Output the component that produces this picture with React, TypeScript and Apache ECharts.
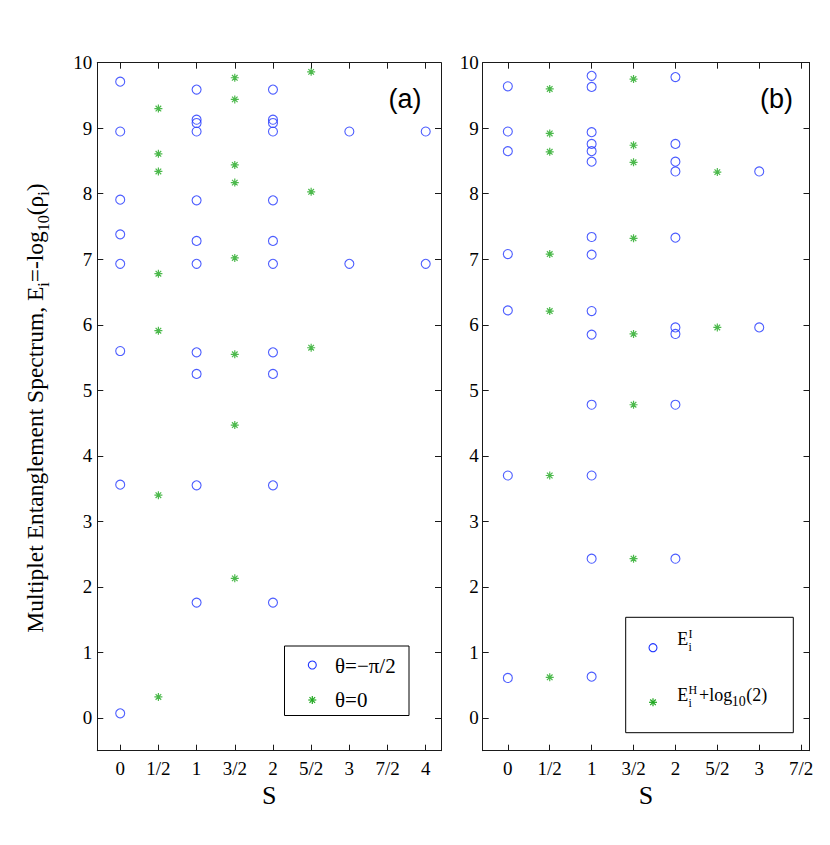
import React, { useEffect, useRef } from "react";
import * as echarts from "echarts";

const SERIF = '"Liberation Serif", "Times New Roman", serif';
const SANS = '"Liberation Sans", Arial, sans-serif';

// ticks
const xTickValuesA = [0, 0.5, 1, 1.5, 2, 2.5, 3, 3.5, 4];
const xTickLabelsA = ["0", "1/2", "1", "3/2", "2", "5/2", "3", "7/2", "4"];
const xTickValuesB = [0, 0.5, 1, 1.5, 2, 2.5, 3, 3.5];
const xTickLabelsB = ["0", "1/2", "1", "3/2", "2", "5/2", "3", "7/2"];
const yTickValues = [0, 1, 2, 3, 4, 5, 6, 7, 8, 9, 10];

// panel (a): θ = −π/2 (circles)
const aCircleS = [0, 1, 2, 3, 4];
const aCircleE = [
  [9.71, 8.95, 7.91, 7.38, 6.93, 5.6, 3.56, 0.07],
  [9.59, 9.13, 9.08, 8.95, 7.9, 7.28, 6.93, 5.58, 5.25, 3.55, 1.76],
  [9.59, 9.13, 9.08, 8.95, 7.9, 7.28, 6.93, 5.58, 5.25, 3.55, 1.76],
  [8.95, 6.93],
  [8.95, 6.93],
];
// panel (a): θ = 0 (stars)
const aStarS = [0.5, 1.5, 2.5];
const aStarE = [
  [9.3, 8.61, 8.34, 6.78, 5.91, 3.4, 0.32],
  [9.77, 9.44, 8.44, 8.17, 7.02, 5.55, 4.47, 2.13],
  [9.86, 8.03, 5.65],
];
// panel (b): E^I (circles)
const bCircleS = [0, 1, 2, 3];
const bCircleE = [
  [9.64, 8.95, 8.65, 7.08, 6.22, 3.7, 0.61],
  [9.8, 9.63, 8.94, 8.76, 8.65, 8.49, 7.34, 7.07, 6.21, 5.85, 4.78, 3.7, 2.43, 0.63],
  [9.78, 8.76, 8.49, 8.34, 7.33, 5.96, 5.86, 4.78, 2.43],
  [8.34, 5.96],
];
// panel (b): E^H + log10(2) (stars)
const bStarS = [0.5, 1.5, 2.5];
const bStarE = [
  [9.6, 8.92, 8.64, 7.08, 6.21, 3.7, 0.62],
  [9.75, 8.74, 8.48, 7.32, 5.86, 4.78, 2.43],
  [8.33, 5.96],
];

const BLUE = "#1f35ff";
const GREEN = "#1fa81f";
const AXIS = "#1a1a1a";
const STAR_PATH = "path://M4 0L4 8M0 4L8 4M1.2 1.2L6.8 6.8M1.2 6.8L6.8 1.2";

const toPoints = (S: number[], E: number[][]) =>
  S.flatMap((s, i) => E[i].map((e) => [s, e]));

function xAxes(grid: number, max: number, vals: number[], labels: string[]) {
  const common = {
    type: "value",
    gridIndex: grid,
    min: -0.3,
    max,
    splitLine: { show: false },
    axisLine: { show: true, onZero: false, lineStyle: { color: AXIS, width: 1 } },
    axisTick: {
      show: true,
      inside: true,
      length: 6,
      customValues: vals,
      lineStyle: { color: AXIS, width: 1 },
    },
  };
  return [
    {
      ...common,
      position: "bottom",
      axisLabel: {
        show: true,
        customValues: vals,
        margin: 8,
        fontFamily: SERIF,
        fontSize: 19,
        color: "#000",
        formatter: (v: number) => labels[Math.round(v * 2)],
      },
      name: "S",
      nameLocation: "middle",
      nameGap: 23,
      nameTextStyle: { fontFamily: SERIF, fontSize: 26, color: "#000" },
    },
    { ...common, position: "top", axisLabel: { show: false } },
  ];
}

function yAxes(grid: number, margin: number) {
  const common = {
    type: "value",
    gridIndex: grid,
    min: -0.5,
    max: 10,
    splitLine: { show: false },
    axisLine: { show: true, onZero: false, lineStyle: { color: AXIS, width: 1 } },
    axisTick: {
      show: true,
      inside: true,
      length: 6,
      customValues: yTickValues,
      lineStyle: { color: AXIS, width: 1 },
    },
  };
  return [
    {
      ...common,
      position: "left",
      axisLabel: {
        show: true,
        customValues: yTickValues,
        margin,
        fontFamily: SERIF,
        fontSize: 19,
        color: "#000",
      },
    },
    { ...common, position: "right", axisLabel: { show: false } },
  ];
}

function circleSeries(name: string, x: number, y: number, data: number[][]) {
  return {
    name,
    type: "scatter",
    xAxisIndex: x,
    yAxisIndex: y,
    symbol: "circle",
    symbolSize: 9,
    itemStyle: { color: "rgba(0,0,0,0)", borderColor: BLUE, borderWidth: 1.1 },
    data,
  };
}
function starSeries(name: string, x: number, y: number, data: number[][]) {
  return {
    name,
    type: "scatter",
    xAxisIndex: x,
    yAxisIndex: y,
    symbol: STAR_PATH,
    symbolSize: 8,
    itemStyle: { color: GREEN, borderColor: GREEN, borderWidth: 1.2 },
    data,
  };
}

function starGlyph(cx: number, cy: number) {
  const r = 4;
  const d = 2.8;
  const ls = { stroke: GREEN, lineWidth: 1.2 };
  return {
    type: "group",
    children: [
      { type: "line", shape: { x1: cx - r, y1: cy, x2: cx + r, y2: cy }, style: ls },
      { type: "line", shape: { x1: cx, y1: cy - r, x2: cx, y2: cy + r }, style: ls },
      { type: "line", shape: { x1: cx - d, y1: cy - d, x2: cx + d, y2: cy + d }, style: ls },
      { type: "line", shape: { x1: cx - d, y1: cy + d, x2: cx + d, y2: cy - d }, style: ls },
    ],
  };
}

function txt(x: number, y: number, text: string, size: number, family = SERIF, align = "left") {
  return {
    type: "text",
    x,
    y,
    style: {
      text,
      fontFamily: family,
      fontSize: size,
      lineHeight: size,
      fill: "#000",
      align,
      verticalAlign: "middle",
    },
  };
}

export default function App() {
  const ref = useRef<HTMLDivElement>(null);
  useEffect(() => {
    if (!ref.current) return;
    const chart = echarts.init(ref.current, null, { renderer: "svg" });
    const main = 639.2;
    const main2 = 694.9;
    chart.setOption({
      animation: false,
      backgroundColor: "#fff",
      grid: [
        { left: 97.3, top: 62.7, width: 343.7, height: 688 },
        { left: 482.7, top: 62.7, width: 326.8, height: 688 },
      ],
      xAxis: [
        ...xAxes(0, 4.2, xTickValuesA, xTickLabelsA),
        ...xAxes(1, 3.6, xTickValuesB, xTickLabelsB),
      ],
      yAxis: [...yAxes(0, 5), ...yAxes(1, 4)],
      series: [
        circleSeries("θ=−π/2", 0, 0, toPoints(aCircleS, aCircleE)),
        starSeries("θ=0", 0, 0, toPoints(aStarS, aStarE)),
        circleSeries("E_i^I", 2, 2, toPoints(bCircleS, bCircleE)),
        starSeries("E_i^H+log10(2)", 2, 2, toPoints(bStarS, bStarE)),
      ],
      graphic: [
        // y-axis label
        {
          type: "text",
          x: 35,
          y: 408,
          rotation: Math.PI / 2,
          style: {
            text: "Multiplet Entanglement Spectrum, E{s|i}=-log{s|10}(ρ{s|i})",
            fontFamily: SERIF,
            fontSize: 23.5,
            fill: "#000",
            align: "center",
            verticalAlign: "middle",
            rich: {
              s: {
                fontFamily: SERIF,
                fontSize: 16,
                lineHeight: 32,
                verticalAlign: "bottom",
                fill: "#000",
              },
            },
          },
        },
        // panel labels
        txt(405, 99, "(a)", 27, SANS, "center"),
        txt(776.5, 99, "(b)", 27, SANS, "center"),
        // legend (a)
        {
          type: "rect",
          shape: { x: 284.5, y: 646, width: 124.5, height: 69.5 },
          style: { fill: "#fff", stroke: "#000", lineWidth: 1 },
        },
        {
          type: "circle",
          shape: { cx: 312.3, cy: 665, r: 4 },
          style: { fill: "none", stroke: BLUE, lineWidth: 1.1 },
        },
        starGlyph(312.3, 700),
        txt(335, 665.5, "θ=−π/2", 21),
        txt(335, 700, "θ=0", 21),
        // legend (b)
        {
          type: "rect",
          shape: { x: 625.7, y: 617.3, width: 167.6, height: 115.4 },
          style: { fill: "#fff", stroke: "#000", lineWidth: 1 },
        },
        {
          type: "circle",
          shape: { cx: 653, cy: 647.7, r: 4 },
          style: { fill: "none", stroke: BLUE, lineWidth: 1.1 },
        },
        starGlyph(653, 702.3),
        txt(677.3, main, "E", 18),
        txt(688.6, main - 5, "I", 12),
        txt(688.6, main + 8, "i", 12),
        txt(677.3, main2, "E", 18),
        txt(688.6, main2 - 5, "H", 12),
        txt(688.6, main2 + 8, "i", 12),
        txt(699, main2, "+log", 18),
        txt(731.7, main2 + 7, "10", 14),
        txt(746.2, main2, "(2)", 18),
      ],
    });
    return () => chart.dispose();
  }, []);
  return (
    <div
      ref={ref}
      style={{ position: "absolute", left: 0, top: 0, width: 830, height: 845 }}
    />
  );
}
